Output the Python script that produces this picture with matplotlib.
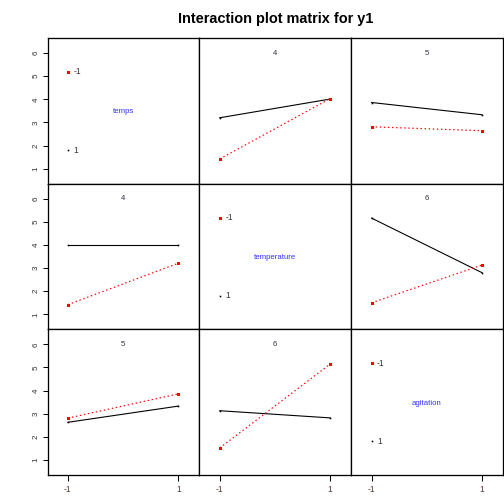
import matplotlib
matplotlib.use("Agg")
import matplotlib.pyplot as plt

plt.rcParams['font.family'] = ['Liberation Sans', 'DejaVu Sans']

# factors on the diagonal and the labels of each pair
factors = ["temps", "temperature", "agitation"]
levels = [-1, 1]
pair_labels = {(0, 1): "4", (0, 2): "5", (1, 2): "6",
               (1, 0): "4", (2, 0): "5", (2, 1): "6"}

# mean of y1 for trace level 1 (black) and trace level -1 (red), at x = -1, 1
mean_level_pos = {(0, 1): [3.20, 4.01], (0, 2): [3.86, 3.33],
                  (1, 0): [4.00, 4.00], (1, 2): [5.16, 2.80],
                  (2, 0): [2.63, 3.33], (2, 1): [3.13, 2.82]}
mean_level_neg = {(0, 1): [1.42, 4.03], (0, 2): [2.81, 2.64],
                  (1, 0): [1.42, 3.21], (1, 2): [1.50, 3.13],
                  (2, 0): [2.81, 3.86], (2, 1): [1.52, 5.15]}

# where the legend of each diagonal panel sits
legend_y = {"-1": 5.18, "1": 1.80}
name_y = 3.45
yticks = [1, 2, 3, 4, 5, 6]

W = H = 504
fig = plt.figure(figsize=(7, 7), dpi=72)
x0, x1 = 47.5, 503.0
y0, y1 = 38.0, 475.0
cw = (x1 - x0) / 3
ch = (y1 - y0) / 3

red = "#FF0000"
dot = (0, (1.2, 2.2))

for i in range(3):
    for j in range(3):
        left = (x0 + j * cw) / W
        bottom = 1 - (y0 + (i + 1) * ch) / H
        ax = fig.add_axes([left, bottom, cw / W, ch / H])
        ax.set_xlim(-1.37, 1.38)
        ax.set_ylim(0.35, 6.65)
        for s in ax.spines.values():
            s.set_linewidth(1.3)

        if i == j:
            ax.plot([-1], [legend_y["-1"]], "s", color=red, ms=3, mew=0)
            ax.plot([-1], [legend_y["1"]], "s", color="black", ms=1.6, mew=0)
            ax.text(-0.9, legend_y["-1"], "-1", fontsize=8.5, color="#333333",
                    va="center", ha="left")
            ax.text(-0.9, legend_y["1"], "1", fontsize=8.5, color="#333333",
                    va="center", ha="left")
            ax.text(0, name_y, factors[i], fontsize=7.7, color="#3030FF",
                    va="center", ha="center")
        else:
            blk = mean_level_pos[(i, j)]
            rd = mean_level_neg[(i, j)]
            ax.plot(levels, blk, "-", color="black", lw=1.1,
                    marker="s", ms=1.6, mew=0)
            ax.plot(levels, rd, linestyle=dot, color=red, lw=1.2,
                    marker="s", ms=3, mew=0)
            ax.text(0, 6.0, pair_labels[(i, j)], fontsize=7.7, color="#333344",
                    va="center", ha="center")

        if j == 0:
            ax.set_yticks(yticks)
            ax.set_yticklabels([str(v) for v in yticks], rotation=90,
                               va="center", fontsize=8, color="#333333")
            ax.tick_params(axis="y", length=5, width=1, pad=3)
        else:
            ax.set_yticks([])
        if i == 2:
            ax.set_xticks(levels)
            ax.set_xticklabels(["-1", "1"], fontsize=8.5, color="#553333")
            ax.tick_params(axis="x", length=6, width=1, pad=4)
        else:
            ax.set_xticks([])

fig.text((x0 + x1) / 2 / W, 1 - 19 / H, "Interaction plot matrix for y1",
         ha="center", va="center", fontsize=14.5, fontweight="bold")

fig.savefig("out.png", dpi=72)
